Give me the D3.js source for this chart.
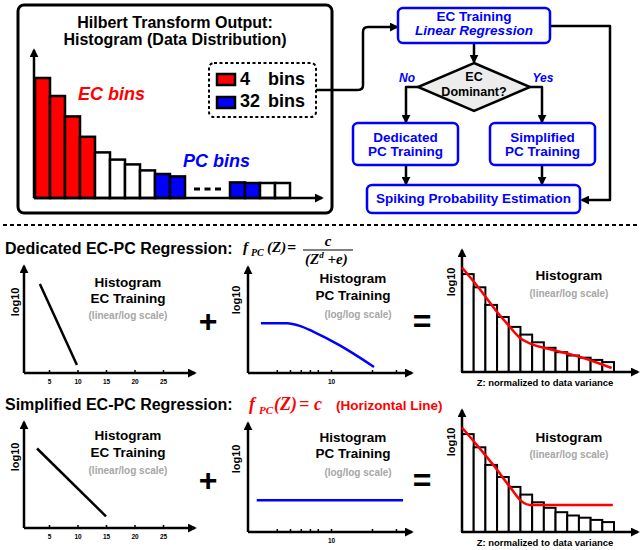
<!DOCTYPE html>
<html>
<head>
<meta charset="utf-8">
<style>
  body { margin: 0; background: #fff; }
  text { font-family: "Liberation Sans", Arial, sans-serif; font-weight: bold; }
  .serif { font-family: "Liberation Serif", "Times New Roman", serif; font-style: italic; font-weight: bold; }
</style>
</head>
<body>
<script src="https://d3js.org/d3.v7.min.js"></script>
<script>

// ---- data ----
// top histogram (bin index, bar height, bin type)
var histIndex = [0, 1, 2, 3, 4, 5, 6, 7, 8, 9, 13, 14, 15, 16];
var histValue = [10, 8.5, 6.8, 5.1, 3.8, 3.2, 2.8, 2.3, 2.0, 1.8, 1.3, 1.25, 1.25, 1.25];
var histType = ['EC', 'EC', 'EC', 'EC', '', '', '', '', 'PC', 'PC', 'PC', 'PC', '', ''];
var legendCounts = ['4', '32'];

// EC training lines (Z, log10)
var ecDedZ = [3.4, 9.9];
var ecDedLog = [8.4, 0.75];
var ecSimZ = [2.9, 15];
var ecSimLog = [7.5, 1.1];
var ecTicks = [5, 10, 15, 20, 25];

// PC training curves (Z on log axis, log10)
var pcDedZ = [3.06, 4.75, 5.9, 7.4, 11.6, 20.7];
var pcDedLog = [4.7, 4.7, 4.45, 3.9, 2.6, 0.57];
var pcSimZ = [2.85, 33.8];
var pcSimLog = [3.0, 3.0];
var pcTicks = [4, 5, 6, 7, 8, 10, 20, 30];

// resulting histogram and fits
var resValue = [8.9, 7.7, 6.1, 5.0, 4.1, 3.4, 2.7, 2.2, 1.8, 1.5, 1.3, 1.1, 0.9];
var fitDedX = [0, 1.54, 3.0, 3.93, 4.96, 5.8, 7.8, 10.1, 12.8];
var fitDedLog = [9.5, 7.5, 5.45, 4.3, 3.1, 2.6, 2.0, 1.36, 0.36];
var fitSimX = [0, 1.28, 2.82, 4.1, 5.2, 5.8, 12.9];
var fitSimLog = [9.5, 7.9, 5.9, 4.1, 2.7, 2.45, 2.45];

var RED = '#ff0000', BLUE = '#0000ff', GRAY = '#a6a6a6';

var svg = d3.select('body').append('svg')
  .attr('width', 640)
  .attr('height', 550);

var defs = svg.append('defs');
defs.append('marker')
  .attr('id', 'arrow')
  .attr('viewBox', '0 0 10 10')
  .attr('refX', 8).attr('refY', 5)
  .attr('markerWidth', 9).attr('markerHeight', 9)
  .attr('markerUnits', 'userSpaceOnUse')
  .attr('orient', 'auto')
  .append('path')
  .attr('d', 'M0,0L10,5L0,10z')
  .attr('fill', '#000');

function label(g, x, y, str, size, opts) {
  opts = opts || {};
  return g.append('text')
    .attr('x', x).attr('y', y)
    .attr('text-anchor', opts.anchor || 'middle')
    .attr('font-size', size)
    .attr('fill', opts.fill || '#000')
    .attr('font-style', opts.italic ? 'italic' : null)
    .attr('font-weight', opts.weight || null)
    .text(str);
}

function arrowPath(g, d, width) {
  g.append('path')
    .attr('d', d)
    .attr('fill', 'none')
    .attr('stroke', '#000')
    .attr('stroke-width', width || 2.5)
    .attr('stroke-linejoin', 'round')
    .attr('marker-end', 'url(#arrow)');
}

function axes(g, x0, y0, xEnd, yEnd) {
  arrowPath(g, 'M' + x0 + ',' + y0 + 'V' + yEnd);
  arrowPath(g, 'M' + x0 + ',' + y0 + 'H' + xEnd);
}

function log10Label(g, x, y) {
  g.append('text')
    .attr('transform', 'translate(' + x + ',' + y + ') rotate(-90)')
    .attr('text-anchor', 'middle')
    .attr('font-size', 11)
    .text('log10');
}

function tickAxis(g, scale, ticks, y0, fmt) {
  var ax = g.append('g')
    .attr('transform', 'translate(0,' + y0 + ')')
    .call(d3.axisBottom(scale).tickValues(ticks).tickSize(-3).tickPadding(6).tickFormat(fmt));
  ax.select('.domain').remove();
  ax.selectAll('.tick line').attr('stroke', '#000').attr('stroke-width', 1.5);
  ax.selectAll('.tick text')
    .attr('font-size', 6.5)
    .attr('font-family', '"Liberation Sans", Arial, sans-serif')
    .attr('font-weight', 'bold')
    .attr('fill', '#000');
}

// ---- top-left: histogram box ----
var hist = svg.append('g');
hist.append('rect')
  .attr('x', 18).attr('y', 5).attr('width', 314).attr('height', 208)
  .attr('rx', 6).attr('fill', 'none')
  .attr('stroke', '#000').attr('stroke-width', 3);
label(hist, 175, 28, 'Hilbert Transform Output:', 16);
label(hist, 175, 45, 'Histogram (Data Distribution)', 16);

var hx = d3.scaleLinear().domain([0, 1]).range([35, 50]);
var hy = d3.scaleLinear().domain([0, 10]).range([198, 78]);
var histData = histIndex.map(function(d, i) { return { i: d, v: histValue[i], t: histType[i] }; });
hist.append('g').selectAll('rect')
  .data(histData)
  .join('rect')
  .attr('x', function(d) { return hx(d.i); })
  .attr('y', function(d) { return hy(d.v); })
  .attr('width', hx(1) - hx(0))
  .attr('height', function(d) { return hy(0) - hy(d.v); })
  .attr('fill', function(d) { return d.t === 'EC' ? RED : d.t === 'PC' ? BLUE : '#fff'; })
  .attr('stroke', '#000')
  .attr('stroke-width', 2.5);
hist.append('line')
  .attr('x1', hx(10.6)).attr('x2', hx(12.4))
  .attr('y1', 189).attr('y2', 189)
  .attr('stroke', '#000').attr('stroke-width', 3)
  .attr('stroke-dasharray', '6,4.5');
axes(hist, 34, 198, 322, 50);
label(hist, 78, 100, 'EC bins', 18, { anchor: 'start', fill: RED, italic: true });
label(hist, 183, 167, 'PC bins', 18, { anchor: 'start', fill: BLUE, italic: true });

// legend
hist.append('rect')
  .attr('x', 209).attr('y', 63).attr('width', 107).attr('height', 54)
  .attr('rx', 5).attr('fill', '#fff')
  .attr('stroke', '#000').attr('stroke-width', 2)
  .attr('stroke-dasharray', '3,2.5');
[RED, BLUE].forEach(function(c, i) {
  hist.append('rect')
    .attr('x', 217).attr('y', 74 + i * 23).attr('width', 18).attr('height', 11)
    .attr('fill', c).attr('stroke', '#000').attr('stroke-width', 2.5);
  label(hist, 240, 85 + i * 22, legendCounts[i], 18, { anchor: 'start' });
  label(hist, 268, 85 + i * 22, 'bins', 18, { anchor: 'start' });
});

// ---- top-right: flowchart ----
var fc = svg.append('g');
function box(x, y, w, h) {
  fc.append('rect')
    .attr('x', x).attr('y', y).attr('width', w).attr('height', h)
    .attr('rx', 5).attr('fill', '#fff')
    .attr('stroke', BLUE).attr('stroke-width', 2.5);
}
// connectors
arrowPath(fc, 'M316,90H358Q363,90 363,85V32Q363,27 368,27H397');
arrowPath(fc, 'M474,43V62');
arrowPath(fc, 'M418,87H406V122');
arrowPath(fc, 'M530,87H542V122');
arrowPath(fc, 'M406,165V184');
arrowPath(fc, 'M542,165V184');
arrowPath(fc, 'M550,26H610V200H582');

box(398, 8, 152, 35);
label(fc, 474, 21, 'EC Training', 13.5, { fill: BLUE });
label(fc, 474, 35, 'Linear Regression', 13.5, { fill: BLUE, italic: true });

fc.append('path')
  .attr('d', 'M474,63L530,87L474,111L418,87Z')
  .attr('fill', '#ececec')
  .attr('stroke', '#000').attr('stroke-width', 2.5)
  .attr('stroke-linejoin', 'miter');
label(fc, 474, 81, 'EC', 12.5, { weight: 'normal' });
label(fc, 474, 95.5, 'Dominant?', 12.5, { weight: 'normal' });
label(fc, 407, 82, 'No', 12, { fill: BLUE, italic: true });
label(fc, 543, 82, 'Yes', 12, { fill: BLUE, italic: true });

box(353, 123, 105, 42);
label(fc, 405.5, 142, 'Dedicated', 13.5, { fill: BLUE });
label(fc, 405.5, 156, 'PC Training', 13.5, { fill: BLUE });
box(490, 123, 105, 42);
label(fc, 542.5, 142, 'Simplified', 13.5, { fill: BLUE });
label(fc, 542.5, 156, 'PC Training', 13.5, { fill: BLUE });
box(367, 185, 213, 28);
label(fc, 473.5, 203, 'Spiking Probability Estimation', 13.5, { fill: BLUE });

// separator
svg.append('line')
  .attr('x1', 3).attr('x2', 638).attr('y1', 225).attr('y2', 225)
  .attr('stroke', '#000').attr('stroke-width', 2)
  .attr('stroke-dasharray', '4,3');

// ---- bottom rows ----
var ecX = d3.scaleLinear().domain([5, 25]).range([49, 163]);
var pcX = d3.scaleLog().domain([10, 20]).range([331, 372]);
var resX = d3.scaleLinear().domain([0, 13]).range([462, 614]);

var rows = [
  { title: 'Dedicated EC-PC Regression:', titleY: 254,
    ecBase: 373, ecTop: 266, pcBase: 373, pcTop: 267, resBase: 372, resTop: 250,
    ecZ: ecDedZ, ecLog: ecDedLog, pcZ: pcDedZ, pcLog: pcDedLog, fitX: fitDedX, fitLog: fitDedLog,
    ecText: [287, 303, 319], pcText: [283, 300, 318], resText: [280, 297], opY: 321 },
  { title: 'Simplified EC-PC Regression:', titleY: 410,
    ecBase: 528, ecTop: 422, pcBase: 532, pcTop: 423, resBase: 532, resTop: 410,
    ecZ: ecSimZ, ecLog: ecSimLog, pcZ: pcSimZ, pcLog: pcSimLog, fitX: fitSimX, fitLog: fitSimLog,
    ecText: [440, 457, 474], pcText: [442, 458, 476], resText: [442, 458], opY: 480 }
];

rows.forEach(function(r) {
  var g = svg.append('g');
  label(g, 5, r.titleY, r.title, 16, { anchor: 'start' });

  // EC training panel
  var ey = d3.scaleLinear().domain([0, 10]).range([r.ecBase, r.ecBase - 106]);
  tickAxis(g, ecX, ecTicks, r.ecBase, d3.format('d'));
  axes(g, 24, r.ecBase, 195, r.ecTop);
  log10Label(g, 19, r.ecBase - 71);
  g.append('path')
    .datum(r.ecZ.map(function(z, i) { return [z, r.ecLog[i]]; }))
    .attr('d', d3.line().x(function(d) { return ecX(d[0]); }).y(function(d) { return ey(d[1]); }))
    .attr('fill', 'none').attr('stroke', '#000').attr('stroke-width', 2.5);
  label(g, 128, r.ecText[0], 'Histogram', 13.5);
  label(g, 128, r.ecText[1], 'EC Training', 13.5);
  label(g, 128, r.ecText[2], '(linear/log scale)', 10, { fill: GRAY });
  label(g, 208, r.opY + 11, '+', 32);

  // PC training panel
  var py = d3.scaleLinear().domain([0, 10]).range([r.pcBase, r.pcBase - 106]);
  tickAxis(g, pcX, pcTicks, r.pcBase, function(d) { return d === 10 ? '10' : ''; });
  axes(g, 248, r.pcBase, 412, r.pcTop);
  log10Label(g, 240, r.pcBase - 73);
  g.append('path')
    .datum(r.pcZ.map(function(z, i) { return [z, r.pcLog[i]]; }))
    .attr('d', d3.line().curve(d3.curveMonotoneX)
      .x(function(d) { return pcX(d[0]); }).y(function(d) { return py(d[1]); }))
    .attr('fill', 'none').attr('stroke', BLUE).attr('stroke-width', 2.5);
  label(g, 353, r.pcText[0], 'Histogram', 13.5);
  label(g, 353, r.pcText[1], 'PC Training', 13.5);
  label(g, 358, r.pcText[2], '(log/log scale)', 10, { fill: GRAY });
  label(g, 422, r.opY + 11, '=', 32);

  // resulting histogram panel
  var ry = d3.scaleLinear().domain([0, 10]).range([r.resBase, r.resBase - 110]);
  g.append('g').selectAll('rect')
    .data(resValue)
    .join('rect')
    .attr('x', function(d, i) { return resX(i); })
    .attr('y', function(d) { return ry(d); })
    .attr('width', resX(1) - resX(0))
    .attr('height', function(d) { return ry(0) - ry(d); })
    .attr('fill', '#fff').attr('stroke', '#000').attr('stroke-width', 2);
  axes(g, 462, r.resBase, 638, r.resTop);
  log10Label(g, 455, r.resBase - 90);
  g.append('path')
    .datum(r.fitX.map(function(x, i) { return [x, r.fitLog[i]]; }))
    .attr('d', d3.line().curve(d3.curveMonotoneX)
      .x(function(d) { return resX(d[0]); }).y(function(d) { return ry(d[1]); }))
    .attr('fill', 'none').attr('stroke', RED).attr('stroke-width', 2.5);
  label(g, 569, r.resText[0], 'Histogram', 13.5);
  label(g, 569, r.resText[1], '(linear/log scale)', 10, { fill: GRAY });
  label(g, 545, r.resBase + 14, 'Z: normalized to data variance', 9.5);
});

// ---- formulas ----
var f1 = svg.append('g');
function serif(g, x, y, str, size, fill, anchor) {
  return g.append('text').attr('class', 'serif')
    .attr('x', x).attr('y', y)
    .attr('font-size', size)
    .attr('fill', fill)
    .attr('text-anchor', anchor || 'start')
    .text(str);
}
serif(f1, 243, 252, 'f', 15, '#000');
serif(f1, 251, 256, 'PC', 10, '#000');
serif(f1, 267, 252, '(Z)', 15, '#000');
serif(f1, 287, 253, '=', 16, '#000');
serif(f1, 328, 246, 'c', 15, '#000', 'middle');
f1.append('line').attr('x1', 303).attr('x2', 353).attr('y1', 250).attr('y2', 250)
  .attr('stroke', '#000').attr('stroke-width', 1.2);
var den = serif(f1, 305, 264, '(Z', 15, '#000');
den.append('tspan').attr('font-size', 9).attr('dy', -6).text('d');
den.append('tspan').attr('dy', 6).text(' +e)');

var f2 = svg.append('g');
serif(f2, 249, 410, 'f', 18, RED);
serif(f2, 259, 414, 'PC', 11, RED);
serif(f2, 274, 410, '(Z)', 18, RED);
serif(f2, 299, 410, '=', 18, RED);
serif(f2, 314, 410, 'c', 18, RED);
label(f2, 336, 410, '(Horizontal Line)', 13.5, { anchor: 'start', fill: RED });

</script>
</body>
</html>
